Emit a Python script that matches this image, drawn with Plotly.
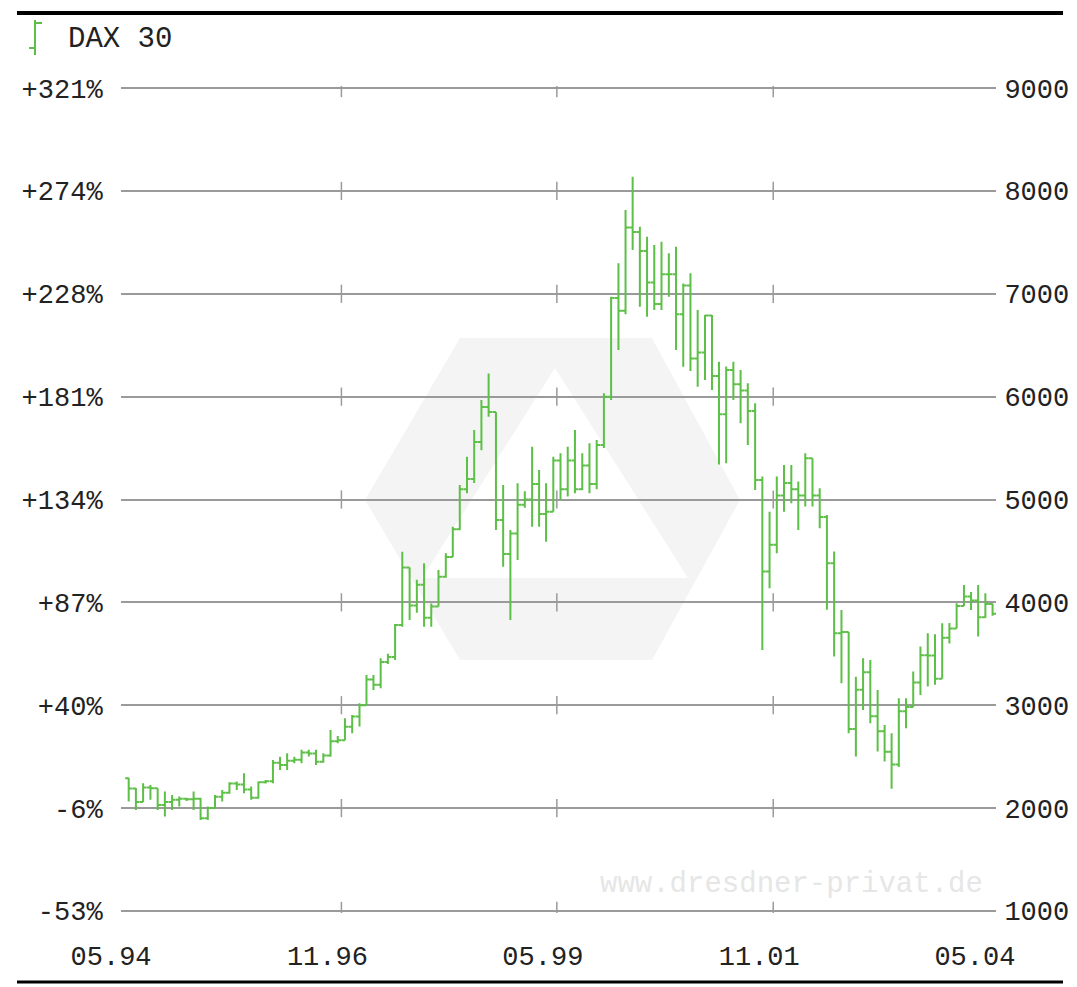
import plotly.graph_objects as go
import pandas as pd

# ---------------- data (monthly DAX 30, May 1994 - May 2004) ----------------
start_month = "1994-05"
opens = [2290, 2190, 2060, 2200, 2193, 2030, 2060, 2080, 2090, 2085,
         2090, 1900, 2000, 2110, 2150, 2240, 2230, 2180, 2100, 2250,
         2260, 2440, 2420, 2460, 2470, 2540, 2530, 2450, 2510, 2650,
         2660, 2790, 2890, 3000, 3250, 3200, 3420, 3470, 3780, 4340,
         3970, 4170, 3850, 3960, 4250, 4440, 4710, 5100, 5200, 5560,
         5900, 5850, 4800, 4470, 4670, 4950, 5000, 5150, 4860, 4880,
         5380, 5100, 5380, 5100, 5330, 5150, 5530, 6000, 6958, 6835,
         7645, 7600, 7415, 7110, 6900, 7190, 7190, 6800, 7080, 6370,
         6430, 6790, 6200, 5830, 6260, 6120, 6060, 5860, 5190, 4300,
         4560, 5040, 5160, 5100, 5040, 5400, 5040, 4830, 4380, 3700,
         3712, 2770, 3150, 3320, 2893, 2748, 2548, 2424, 2942, 2982,
         3221, 3487, 3484, 3257, 3655, 3745, 3965, 4058, 4018, 3856,
         3985]
highs = [2295, 2195, 2242, 2225, 2193, 2161, 2128, 2112, 2100, 2161,
         2100, 2015, 2128, 2177, 2250, 2258, 2339, 2209, 2258, 2274,
         2468, 2500, 2533, 2500, 2566, 2566, 2566, 2533, 2760, 2700,
         2873, 2906, 3019, 3295, 3295, 3457, 3500, 3790, 4493, 4340,
         4220, 4380, 3990, 4315, 4477, 4736, 5141, 5416, 5676, 5967,
         6226, 5850, 5141, 4704, 5157, 5080, 5514, 5287, 5157, 5416,
         5449, 5514, 5676, 5449, 5546, 5578, 6032, 6972, 7296, 7814,
         8138, 7652, 7555, 7474, 7506, 7393, 7458, 7101, 7199, 6842,
         6794, 6794, 6340, 6292, 6340, 6259, 6130, 5935, 5223, 4882,
         5223, 5336, 5336, 5174, 5449, 5400, 5109, 4850, 4494, 3926,
         3712, 3278, 3456, 3440, 3149, 2808, 2727, 3068, 3068, 3327,
         3570, 3700, 3690, 3797, 3800, 3991, 4169, 4100, 4169, 4088,
         3990]
lows = [2063, 1982, 2060, 2080, 1982, 1918, 1982, 2015, 2070, 1982,
        1885, 1885, 2000, 2063, 2140, 2177, 2144, 2080, 2090, 2240,
        2242, 2371, 2371, 2436, 2436, 2501, 2420, 2440, 2500, 2630,
        2660, 2728, 2792, 3000, 3149, 3165, 3400, 3440, 3764, 3829,
        3900, 3764, 3764, 3960, 4240, 4440, 4700, 5060, 5160, 5480,
        5805, 4704, 4347, 3829, 4412, 4920, 4736, 4736, 4590, 4880,
        4995, 5028, 5060, 5093, 5060, 5100, 5500, 5967, 6453, 6800,
        7425, 6875, 6777, 6842, 6842, 6972, 6453, 6291, 6250, 6097,
        6162, 6065, 5340, 5352, 5968, 5741, 5530, 5093, 3538, 4137,
        4477, 4882, 4963, 4704, 4931, 4931, 4720, 3927, 3473, 3213,
        2727, 2501, 2954, 2825, 2549, 2452, 2188, 2400, 2776, 2982,
        3100, 3181, 3200, 3257, 3600, 3745, 3965, 3926, 3667, 3850,
        3870]
closes = [2190, 2060, 2200, 2193, 2030, 2060, 2080, 2090, 2085, 2090,
          1900, 2000, 2110, 2150, 2240, 2230, 2180, 2100, 2250, 2260,
          2440, 2420, 2460, 2470, 2540, 2530, 2450, 2510, 2650, 2660,
          2790, 2890, 3000, 3250, 3200, 3420, 3470, 3780, 4340, 3970,
          4170, 3850, 3960, 4250, 4440, 4710, 5100, 5200, 5560, 5900,
          5850, 4800, 4470, 4670, 4950, 5000, 5150, 4860, 4880, 5380,
          5100, 5380, 5100, 5330, 5150, 5530, 6000, 6958, 6835, 7645,
          7600, 7415, 7110, 6900, 7190, 7190, 6800, 7080, 6370, 6430,
          6790, 6200, 5830, 6260, 6120, 6060, 5860, 5190, 4300, 4560,
          5040, 5160, 5100, 5040, 5400, 5040, 4830, 4380, 3700, 3712,
          2770, 3150, 3320, 2893, 2748, 2548, 2424, 2942, 2982, 3221,
          3487, 3484, 3257, 3655, 3745, 3965, 4058, 4018, 3856, 3985,
          3890]

months = pd.period_range(start=start_month, periods=len(closes), freq="M").to_timestamp()

x_tick_vals = ["1994-05-01", "1996-11-01", "1999-05-01", "2001-11-01", "2004-05-01"]
x_tick_text = ["05.94", "11.96", "05.99", "11.01", "05.04"]
y_tick_vals = [1000, 2000, 3000, 4000, 5000, 6000, 7000, 8000, 9000]
y_tick_pct = ["-53%", "-6%", "+40%", "+87%", "+134%", "+181%", "+228%", "+274%", "+321%"]
y_tick_abs = ["1000", "2000", "3000", "4000", "5000", "6000", "7000", "8000", "9000"]
series_name = "DAX 30"

# ---------------- style ----------------
GREEN = "#5cbf46"
GRID = "#9a9a9a"
TEXT = "#222222"
FONT = "Liberation Mono"
FS = 27

W, H = 1077, 987
OFF = 8                                # page body margin of the html page
PL, PR, PT, PB = 121, 996, 86, 913      # plot area in on-screen pixels


def px_x(p):
    return (p - PL) / (PR - PL)


def px_y(p):
    return (PB - p) / (PB - PT)


fig = go.Figure()

fig.add_trace(go.Ohlc(
    x=months, open=opens, high=highs, low=lows, close=closes,
    xperiod="M1", xperiodalignment="middle",
    name=series_name, showlegend=False, tickwidth=0.5,
    increasing=dict(line=dict(color=GREEN, width=2)),
    decreasing=dict(line=dict(color=GREEN, width=2)),
    hoverinfo="skip",
))

# small tick crosses on the grid lines at the inner date ticks
cx, cy = [], []
for tv in x_tick_vals[1:-1]:
    for yv in y_tick_vals:
        cx.append(tv)
        cy.append(yv)
fig.add_trace(go.Scatter(
    x=cx, y=cy, mode="markers", yaxis="y2", showlegend=False, hoverinfo="skip",
    marker=dict(symbol="line-ns", size=13, line=dict(color=GRID, width=1.5)),
))

shapes = [
    # watermark logo
    dict(type="path", xref="paper", yref="paper", layer="below",
         path=("M {a},{b} L {c},{d} L {e},{d} L {f},{b} L {e},{g} L {c},{g} Z "
               "M {h},{i} L {j},{k} L {l},{k} Z").format(
             a=px_x(365), b=px_y(500), c=px_x(460), d=px_y(338), e=px_x(652),
             f=px_x(740), g=px_y(660), h=px_x(555), i=px_y(368), j=px_x(688),
             k=px_y(578), l=px_x(422)),
         fillcolor="#f4f4f4", fillrule="evenodd", line=dict(width=0)),
    # top and bottom rules
    dict(type="line", xref="paper", yref="paper", x0=px_x(17), x1=px_x(1063),
         y0=px_y(13), y1=px_y(13), line=dict(color="black", width=4)),
    dict(type="line", xref="paper", yref="paper", x0=px_x(17), x1=px_x(1063),
         y0=px_y(982), y1=px_y(982), line=dict(color="black", width=3)),
    # legend glyph (vertical bar with open/close ticks)
    dict(type="line", xref="paper", yref="paper", x0=px_x(35), x1=px_x(35),
         y0=px_y(20), y1=px_y(55), line=dict(color=GREEN, width=2)),
    dict(type="line", xref="paper", yref="paper", x0=px_x(35), x1=px_x(42),
         y0=px_y(23), y1=px_y(23), line=dict(color=GREEN, width=2)),
    dict(type="line", xref="paper", yref="paper", x0=px_x(29), x1=px_x(35),
         y0=px_y(48), y1=px_y(48), line=dict(color=GREEN, width=2)),
]

fig.update_layout(
    width=W, height=H,
    margin=dict(l=PL - OFF, r=W - (PR - OFF), t=PT - OFF, b=H - (PB - OFF)),
    paper_bgcolor="white", plot_bgcolor="rgba(0,0,0,0)",
    font=dict(family=FONT, size=FS, color=TEXT),
    shapes=shapes,
    showlegend=False,
    xaxis=dict(type="date", range=["1994-04-14", "2004-05-31"],
               tickvals=x_tick_vals, ticktext=x_tick_text,
               showgrid=False, zeroline=False, showline=False,
               ticks="outside", ticklen=19, tickcolor="rgba(0,0,0,0)",
               ticklabelshift=-14, rangeslider=dict(visible=False),
               tickfont=dict(family=FONT, size=FS, color=TEXT)),
    yaxis=dict(range=[980, 9020], tickvals=y_tick_vals, ticktext=y_tick_pct,
               showgrid=True, gridcolor=GRID, gridwidth=2, zeroline=False,
               ticks="outside", ticklen=12, tickcolor="rgba(0,0,0,0)",
               tickfont=dict(family=FONT, size=FS, color=TEXT)),
    yaxis2=dict(range=[980, 9020], overlaying="y", side="right",
                tickvals=y_tick_vals, ticktext=y_tick_abs, showgrid=False,
                zeroline=False, ticks="outside", ticklen=2,
                tickcolor="rgba(0,0,0,0)",
                tickfont=dict(family=FONT, size=FS, color=TEXT)),
    annotations=[
        dict(text=series_name, xref="paper", yref="paper",
             x=px_x(66), y=px_y(40), xanchor="left", yanchor="middle",
             showarrow=False, font=dict(family=FONT, size=29, color=TEXT)),
        dict(text="www.dresdner-privat.de", xref="paper", yref="paper",
             x=px_x(985), y=px_y(884), xanchor="right", yanchor="middle",
             showarrow=False, font=dict(family=FONT, size=29, color="#e6e6e6")),
    ],
)

fig.write_html("out.html")
